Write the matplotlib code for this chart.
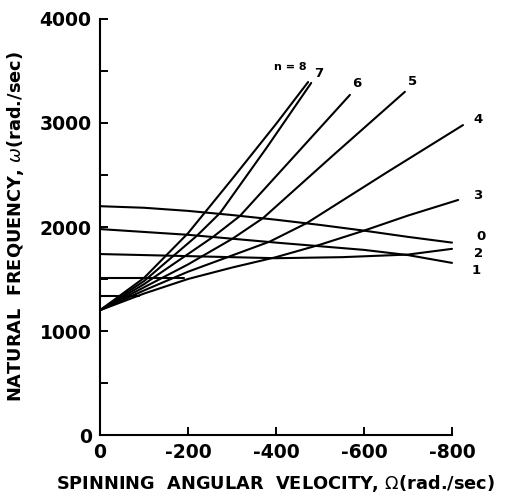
import matplotlib
matplotlib.use('Agg')
import matplotlib.pyplot as plt

# spinning angular velocity (rad/sec) and natural frequency (rad/sec)
n0_w = [0, -100, -200, -300, -400, -500, -600, -700, -800]
n0_f = [2200, 2185, 2155, 2115, 2070, 2020, 1965, 1905, 1850]

n1_w = [0, -200, -400, -600, -700, -800]
n1_f = [1980, 1925, 1850, 1780, 1730, 1655]

n2_w = [0, -200, -400, -550, -700, -800]
n2_f = [1740, 1720, 1700, 1710, 1735, 1790]

n3_w = [0, -100, -200, -300, -400, -500, -600, -700, -814]
n3_f = [1200, 1360, 1500, 1610, 1710, 1830, 1965, 2110, 2260]

n4_w = [0, -100, -200, -386, -470, -650, -825]
n4_f = [1200, 1390, 1570, 1860, 2038, 2520, 2980]

n5_w = [0, -100, -200, -302, -371, -530, -693]
n5_f = [1200, 1420, 1640, 1890, 2087, 2690, 3300]

n6_w = [0, -100, -257, -318, -450, -568]
n6_f = [1200, 1450, 1905, 2106, 2720, 3270]

n7_w = [0, -100, -220, -273, -380, -480]
n7_f = [1200, 1480, 1915, 2135, 2770, 3385]

n8_w = [0, -100, -200, -300, -400, -473]
n8_f = [1200, 1510, 1940, 2460, 2990, 3394]

# short flat branches at the left that run into the n=3 curve
flat_a_w = [0, -190]
flat_a_f = [1510, 1510]
flat_b_w = [0, -88]
flat_b_f = [1335, 1335]

curves = [
    (n0_w, n0_f), (n1_w, n1_f), (n2_w, n2_f), (n3_w, n3_f), (n4_w, n4_f),
    (n5_w, n5_f), (n6_w, n6_f), (n7_w, n7_f), (n8_w, n8_f),
    (flat_a_w, flat_a_f), (flat_b_w, flat_b_f),
]

# curve labels: text, position (data)
labels = ['n = 8', '7', '6', '5', '4', '3', '0', '2', '1']
label_w = [-432, -498, -584, -711, -859, -859, -866, -861, -855]
label_f = [3540, 3480, 3375, 3395, 3030, 2300, 1905, 1750, 1580]

plt.rcParams['font.family'] = ['DejaVu Sans']

fig = plt.figure(figsize=(5.12, 4.93), dpi=100, facecolor='white')
ax = fig.add_axes([0.1953, 0.1176, 0.6875, 0.8439])

for w, f in curves:
    ax.plot(w, f, color='black', lw=1.5, clip_on=False, solid_capstyle='round')

for t, x, y in zip(labels, label_w, label_f):
    fs = 8 if t.startswith('n') else 9.5
    ax.text(x, y, t, ha='center', va='center', fontsize=fs, fontweight='bold')

ax.set_xlim(0, -800)
ax.set_ylim(0, 4000)

ax.spines['top'].set_visible(False)
ax.spines['right'].set_visible(False)
ax.spines['left'].set_linewidth(1.5)
ax.spines['bottom'].set_linewidth(1.5)

ax.set_xticks([0, -200, -400, -600, -800])
ax.set_xticklabels(['0', '-200', '-400', '-600', '-800'])
ax.set_yticks([0, 500, 1000, 1500, 2000, 2500, 3000, 3500, 4000])
ax.set_yticklabels(['0', '', '1000', '', '2000', '', '3000', '', '4000'])
ax.tick_params(direction='in', length=6, width=1.4, labelsize=13.5, pad=6)
for lab in ax.get_xticklabels() + ax.get_yticklabels():
    lab.set_fontweight('bold')

ax.set_xlabel('SPINNING  ANGULAR  VELOCITY, $\\Omega$(rad./sec)',
              fontsize=12.8, fontweight='bold', labelpad=8)
ax.set_ylabel('NATURAL  FREQUENCY, $\\omega$(rad./sec)',
              fontsize=12.8, fontweight='bold', labelpad=10)

fig.savefig('out.png', dpi=100, facecolor='white')
